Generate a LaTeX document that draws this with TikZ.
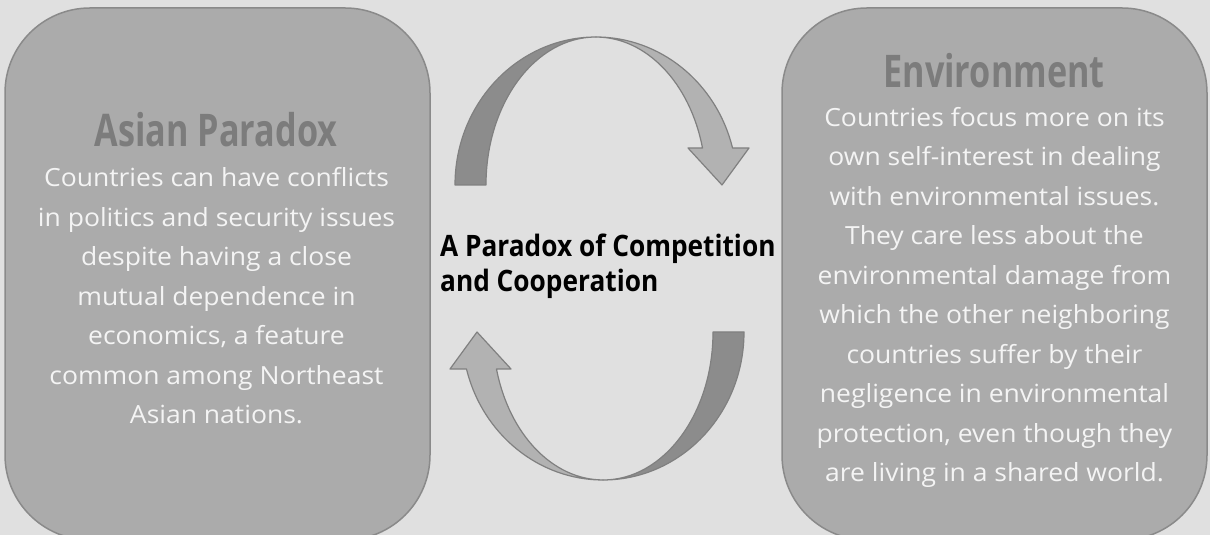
\documentclass[tikz,border=0pt]{standalone}
\usepackage{fontspec}
\setmainfont{Open Sans}
\newfontfamily\bodyfam[FakeStretch=1.06]{Open Sans}
\newfontfamily\titlefam[FakeStretch=0.76]{Open Sans}
\newfontfamily\midfam[FakeStretch=0.89]{Open Sans}
\definecolor{bgcol}{HTML}{E0E0E0}
\definecolor{boxfill}{HTML}{ABABAB}
\definecolor{boxline}{HTML}{8A8A8A}
\definecolor{titlecol}{HTML}{7C7C7C}
\definecolor{bodycol}{HTML}{F4F4F4}
\definecolor{darkpart}{HTML}{8C8C8C}
\definecolor{lightpart}{HTML}{B2B2B2}
\definecolor{arrline}{HTML}{808080}
\begin{document}
\begin{tikzpicture}[x=1pt,y=1pt,
  box/.style={draw=boxline, line width=1.5pt, fill=boxfill, rounded corners=85pt,
    minimum width=425pt, minimum height=532pt, inner sep=0pt},
  titletext/.style={font=\titlefam\bfseries\fontsize{45}{50}\selectfont, text=titlecol, inner sep=0pt, anchor=base},
  bodytext/.style={font=\bodyfam\fontsize{25}{39.5}\selectfont, text=bodycol, align=center, inner sep=0pt, anchor=base},
  midtext/.style={font=\midfam\bfseries\fontsize{29.5}{35}\selectfont, text=black, align=left, inner sep=0pt, anchor=base west},
  darkband/.style={fill=darkpart, draw=arrline, line width=1.2pt, line join=round},
  lightband/.style={fill=lightpart, draw=arrline, line width=1.2pt, line join=round}]
\useasboundingbox (0,0) rectangle (1210,535);
\fill[bgcol] (0,0) rectangle (1210,535);
\begin{scope}
\clip (0,0) rectangle (1210,535);
\node[box] (L) at (217.5,261) {};
\node[box] (R) at (994.5,261) {};
\end{scope}
% top arrow
\draw[lightband] (596,498) arc[start angle=90,end angle=14.5,x radius=141,y radius=148]
  -- (749,387) -- (722,350) -- (688,387) -- (702.5,387)
  arc[start angle=14.5,end angle=90,x radius=110,y radius=148] -- cycle;
\draw[darkband] (455,350) arc[start angle=180,end angle=90,x radius=141,y radius=148]
  arc[start angle=90,end angle=180,x radius=110,y radius=148] -- cycle;
% bottom arrow
\draw[lightband] (603,55) arc[start angle=-90,end angle=-165.5,x radius=141,y radius=148]
  -- (450,166) -- (477,203) -- (511,166) -- (496.5,166)
  arc[start angle=-165.5,end angle=-90,x radius=110,y radius=148] -- cycle;
\draw[darkband] (744,203) arc[start angle=0,end angle=-90,x radius=141,y radius=148]
  arc[start angle=-90,end angle=0,x radius=110,y radius=148] -- cycle;
% texts
\node[titletext] (Lt) at (216,388) {Asian Paradox};
\node[bodytext] (Lb) at (216.5,111) {Countries can have conflicts\\in politics and security issues\\despite having a close\\mutual dependence in\\economics, a feature\\common among Northeast\\Asian nations.};
\node[titletext] (Rt) at (994,447) {Environment};
\node[bodytext] (Rb) at (994.5,53) {Countries focus more on its\\own self-interest in dealing\\with environmental issues.\\They care less about the\\environmental damage from\\which the other neighboring\\countries suffer by their\\negligence in environmental\\protection, even though they\\are living in a shared world.};
\node[midtext] (C) at (440,243) {A Paradox of Competition\\and Cooperation};
\end{tikzpicture}
\end{document}
